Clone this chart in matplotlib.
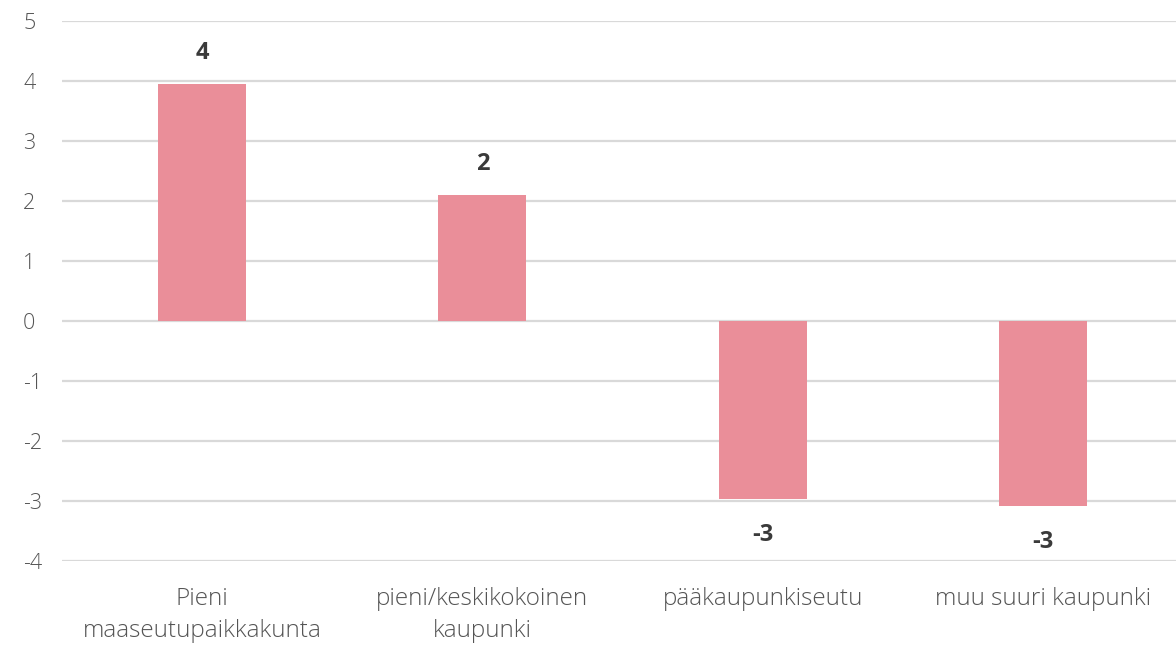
import matplotlib
matplotlib.use("Agg")
import matplotlib.pyplot as plt

categories = ["Pieni\nmaaseutupaikkakunta", "pieni/keskikokoinen\nkaupunki", "pääkaupunkiseutu", "muu suuri kaupunki"]
values = [3.95, 2.1, -2.97, -3.08]
labels = ["4", "2", "-3", "-3"]
yticks = [-4, -3, -2, -1, 0, 1, 2, 3, 4, 5]

plt.rcParams['font.family'] = ['Open Sans', 'DejaVu Sans']

fig = plt.figure(figsize=(11.76, 6.45), dpi=100)
ax = fig.add_axes([62/1176, 84/645, 1 - 62/1176, (561-21)/645])

x = list(range(len(categories)))
bars = ax.bar(x, values, width=0.314, color="#EA8E99", zorder=3)

for xi, v, lab in zip(x, values, labels):
    if v >= 0:
        ax.annotate(lab, (xi, v), xytext=(0, 22), textcoords="offset points",
                    ha="center", va="center", fontsize=17, fontweight="bold", color="#3a3a3a")
    else:
        ax.annotate(lab, (xi, v), xytext=(0, -26), textcoords="offset points",
                    ha="center", va="center", fontsize=17, fontweight="bold", color="#3a3a3a")

ax.set_ylim(-4, 5)
ax.set_xlim(-0.5, 3.475)
ax.set_yticks(yticks)
ax.set_yticklabels([str(t) for t in yticks], fontsize=15.5, color="#555555", fontweight="light")
ax.set_xticks(x)
ax.set_xticklabels(categories, fontsize=17.5, color="#555555", fontweight="light", linespacing=1.45)
ax.tick_params(axis="both", length=0)
ax.tick_params(axis="x", pad=19)
ax.tick_params(axis="y", pad=28)
for lab in ax.get_yticklabels():
    lab.set_horizontalalignment("left")

ax.yaxis.grid(True, color="#d9d9d9", linewidth=1.6, zorder=0)
ax.set_axisbelow(True)
for s in ax.spines.values():
    s.set_visible(False)

fig.savefig("out.png", dpi=100)
